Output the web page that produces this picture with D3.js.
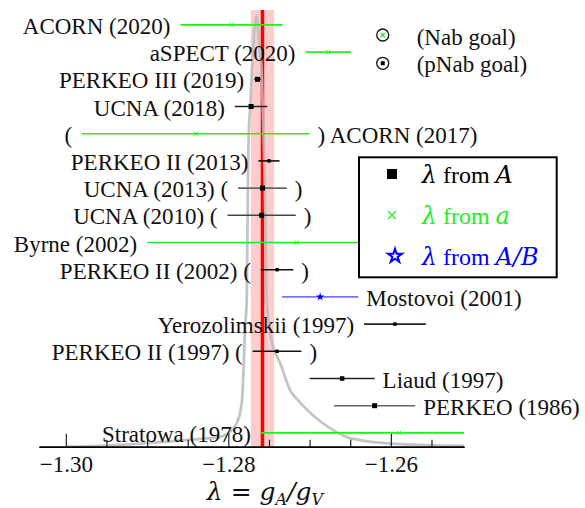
<!DOCTYPE html>
<html><head><meta charset="utf-8">
<script src="https://cdn.jsdelivr.net/npm/d3@7"></script>
<style>
body{margin:0;background:#fff;}
</style></head>
<body><svg id="chart" width="585" height="508"></svg>
<script>
// ---- data ----
const categories = ["ACORN (2020)","aSPECT (2020)","PERKEO III (2019)","UCNA (2018)","ACORN (2017)","PERKEO II (2013)","UCNA (2013)","UCNA (2010)","Byrne (2002)","PERKEO II (2002)","Mostovoi (2001)","Yerozolimskii (1997)","PERKEO II (1997)","Liaud (1997)","PERKEO (1986)","Stratowa (1978)"];
const lambdaValues = [-1.2796,-1.2677,-1.27641,-1.2772,-1.2840,-1.2750,-1.2758,-1.2759,-1.2716,-1.2740,-1.2687,-1.2595,-1.2740,-1.2660,-1.2620,-1.2590];
const lambdaErrors = [0.0063,0.0028,0.0004,0.0020,0.0140,0.0013,0.0030,0.0042,0.0184,0.0020,0.0047,0.0038,0.0030,0.0040,0.0050,0.0170];
const methods = ["a","a","A","A","a","A","A","A","a","A","AB","A","A","A","A","a"];
const excluded = [false,false,false,false,true,false,true,true,false,true,false,false,true,false,false,false];
const averageLambda = -1.2758;
const averageError = 0.00143;
const curveLambda = [-1.3000,-1.2958,-1.2896,-1.2835,-1.2810,-1.27955,-1.2788,-1.27832,-1.27813,-1.27795,-1.27774,-1.27754,-1.27727,-1.27696,-1.27651,-1.27623,-1.27586,-1.27561,-1.27543,-1.27528,-1.27487,-1.27344,-1.27242,-1.27143,-1.26934,-1.26750,-1.26504,-1.25889,-1.2510];
const curveDensity = [0.0,0.002,0.009,0.018,0.023,0.039,0.062,0.108,0.178,0.271,0.341,0.689,0.805,0.921,1.0,0.944,0.851,0.689,0.526,0.341,0.264,0.185,0.132,0.108,0.069,0.043,0.020,0.006,0.002];
const majorTicks = [-1.30,-1.28,-1.26];
const minorTicks = [-1.295,-1.29,-1.285,-1.275,-1.27,-1.265,-1.255];
const goalLabels = ["(Nab goal)","(pNab goal)"];
const legendLabels = [["λ"," from ","A"],["λ"," from ","a"],["λ"," from ","A/B"]];

// ---- styles / layout ----
const SERIF = '"Liberation Serif"';
const MATH = '"DejaVu Serif"';
const labelRight = [false,false,false,false,true,false,false,false,false,false,true,false,false,true,true,false];
const barShade = ["#22ee22","#22ee22","#111","#222","#22ee22","#111","#666","#444","#22ee22","#111","#7777ff","#222","#111","#222","#666","#22ee22"];
const markSize = [0,0,5,5,0,3.5,5,5,0,3.5,0,3.5,3.5,4.5,5,0];
const GREEN = "#22ee22", BLUE = "#0000ff";

const svg = d3.select("#chart");
const x = d3.scaleLinear().domain([-1.3033,-1.2510]).range([39,464]);
const y = d3.scalePoint().domain(d3.range(categories.length)).range([24.9,432.9]);
const yd = d3.scaleLinear().domain([0,1]).range([446.7,16]);
const fs = 23;

svg.append("defs").append("clipPath").attr("id","clip")
  .append("rect").attr("x",39).attr("y",0).attr("width",425).attr("height",508);

// average band & line
svg.append("rect").attr("x",x(averageLambda-averageError)).attr("y",10)
  .attr("width",x(averageLambda+averageError)-x(averageLambda-averageError)).attr("height",446.7-10)
  .attr("fill","#ffcccc");
svg.append("line").attr("x1",x(averageLambda)).attr("x2",x(averageLambda)).attr("y1",10).attr("y2",446.7)
  .attr("stroke","#ff0000").attr("stroke-width",3.5);

// distribution curve
const curvePts = curveLambda.map((l,i)=>[l,curveDensity[i]]);
svg.append("path").datum(curvePts)
  .attr("d",d3.line().x(d=>x(d[0])).y(d=>yd(d[1])).curve(d3.curveMonotoneX))
  .attr("fill","none").attr("stroke","#bbbbbb").attr("stroke-opacity",0.85).attr("stroke-width",2.8)
  .attr("clip-path","url(#clip)");

// axis
const axG = svg.append("g").attr("transform","translate(0,446.7)");
axG.call(d3.axisBottom(x).tickValues(minorTicks).tickSize(-7).tickSizeOuter(0).tickFormat(""));
const axM = svg.append("g").attr("transform","translate(0,446.7)");
axM.call(d3.axisBottom(x).tickValues(majorTicks).tickSize(-13).tickSizeOuter(0).tickPadding(9).tickFormat(d3.format(".2f")));
[axG,axM].forEach(g=>{
  g.attr("font-family",null);
  g.selectAll("path").attr("stroke","#000").attr("stroke-width",1.6);
  g.selectAll("line").attr("stroke","#222").attr("stroke-width",1.2);
});
axM.selectAll("text").attr("font-size",fs).style("font-family",SERIF).attr("fill","#111");

// axis label
const xl = svg.append("text").attr("x",265).attr("y",500).attr("text-anchor","middle")
  .attr("font-size",25).style("font-family",MATH).attr("fill","#111");
xl.append("tspan").attr("font-style","italic").text("λ");
xl.append("tspan").text(" = ");
xl.append("tspan").attr("font-style","italic").text("g");
xl.append("tspan").attr("font-style","italic").attr("font-size",16).attr("dy",5).text("A");
xl.append("tspan").attr("font-style","italic").attr("dy",-5).text("/g");
xl.append("tspan").attr("font-style","italic").attr("font-size",16).attr("dy",5).text("V");

// error bars
const rows = svg.append("g").attr("clip-path","url(#clip)");
categories.forEach((c,i)=>{
  const v = lambdaValues[i], e = lambdaErrors[i], yy = y(i);
  rows.append("line").attr("x1",x(v-e)).attr("x2",x(v+e)).attr("y1",yy).attr("y2",yy)
    .attr("stroke",barShade[i]).attr("stroke-width",1.6);
});
// markers
const marks = svg.append("g");
categories.forEach((c,i)=>{
  const cx = x(lambdaValues[i]), cy = y(i);
  if (methods[i]==="A") {
    const s = markSize[i];
    marks.append("rect").attr("x",cx-s/2).attr("y",cy-s/2).attr("width",s).attr("height",s).attr("fill","#000");
  } else if (methods[i]==="a") {
    marks.append("path").attr("d",`M${cx-2},${cy-2}L${cx+2},${cy+2}M${cx-2},${cy+2}L${cx+2},${cy-2}`)
      .attr("stroke",GREEN).attr("stroke-width",1);
  } else {
    marks.append("path").attr("d",d3.symbol(d3.symbolStar,22)()).attr("transform",`translate(${cx},${cy})`).attr("fill",BLUE);
  }
});

// labels
const labs = svg.append("g");
function label(xx,yy,anchor,txt){
  return labs.append("text").attr("x",xx).attr("y",yy).attr("text-anchor",anchor)
    .attr("font-size",fs).style("font-family",SERIF).attr("fill","#111").text(txt);
}
categories.forEach((c,i)=>{
  const v = lambdaValues[i], e = lambdaErrors[i], yy = y(i)+9;
  const left = x(v-e)-10, right = x(v+e)+8;
  if (labelRight[i]) {
    label(right,yy,"start",(excluded[i]?") ":"")+c);
    if (excluded[i]) label(left,yy,"end","(");
  } else {
    label(left,yy,"end",c+(excluded[i]?" (":""));
    if (excluded[i]) label(right,yy,"start",")");
  }
});

// goal markers
const gx = x(-1.2610);
[35,63.3].forEach((gy,k)=>{
  svg.append("circle").attr("cx",gx).attr("cy",gy).attr("r",6).attr("fill","#fff").attr("stroke","#111").attr("stroke-width",1.3);
  if (k===0) svg.append("path").attr("d",`M${gx-2},${gy-2}L${gx+2},${gy+2}M${gx-2},${gy+2}L${gx+2},${gy-2}`).attr("stroke",GREEN).attr("stroke-width",1.3);
  else svg.append("rect").attr("x",gx-2).attr("y",gy-2).attr("width",4).attr("height",4).attr("fill","#000");
  svg.append("text").attr("x",416.7).attr("y",gy+(k===0?10:8.5)).attr("font-size",fs).style("font-family",SERIF).attr("fill","#111").text(goalLabels[k]);
});

// legend
const lg = svg.append("g");
lg.append("rect").attr("x",359).attr("y",157.3).attr("width",197.7).attr("height",120).attr("fill","#fff").attr("stroke","#000").attr("stroke-width",2);
const legColors = ["#000",GREEN,BLUE];
const legY = [182.5,223.5,264.5];
legendLabels.forEach((parts,k)=>{
  const t = lg.append("text").attr("x",421.7).attr("y",legY[k]).attr("font-size",24).style("font-family",SERIF).attr("fill",legColors[k]);
  t.append("tspan").attr("font-style","italic").style("font-family",MATH).text(parts[0]);
  t.append("tspan").text(parts[1]);
  t.append("tspan").attr("font-style","italic").style("font-family",MATH).text(parts[2]);
  const mx = 392, my = legY[k]-8.5;
  if (k===0) lg.append("rect").attr("x",mx-5).attr("y",my-5).attr("width",10).attr("height",10).attr("fill","#000");
  else if (k===1) lg.append("path").attr("d",`M${mx-4},${my-4}L${mx+4},${my+4}M${mx-4},${my+4}L${mx+4},${my-4}`).attr("stroke",GREEN).attr("stroke-width",1.2);
  else lg.append("path").attr("d",d3.symbol(d3.symbolStar,60)()).attr("transform",`translate(${mx+3},${my})`).attr("fill","#fff").attr("stroke",BLUE).attr("stroke-width",2);
});
</script></body></html>
